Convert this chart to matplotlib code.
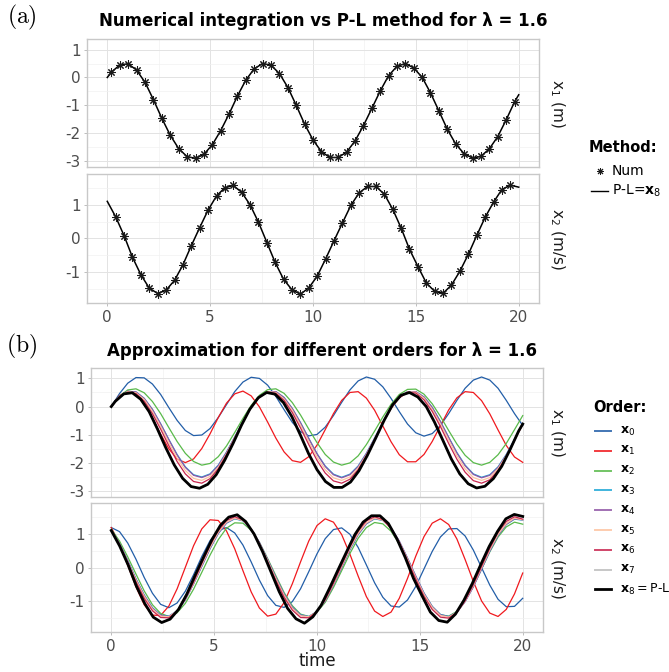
import matplotlib
matplotlib.use('Agg')
import matplotlib.pyplot as plt
from matplotlib.lines import Line2D

plt.rcParams['font.family'] = ['DejaVu Sans']
plt.rcParams['mathtext.fontset'] = 'dejavusans'

W, H = 669, 672

# time grid used for the approximation curves
t_grid = [0.0, 0.4, 0.8, 1.2, 1.6, 2.0, 2.4, 2.8, 3.2, 3.6, 4.0, 4.4, 4.8, 5.2, 5.6, 6.0,
          6.4, 6.8, 7.2, 7.6, 8.0, 8.4, 8.8, 9.2, 9.6, 10.0, 10.4, 10.8, 11.2, 11.6, 12.0,
          12.4, 12.8, 13.2, 13.6, 14.0, 14.4, 14.8, 15.2, 15.6, 16.0, 16.4, 16.8, 17.2,
          17.6, 18.0, 18.4, 18.8, 19.2, 19.6, 20.0]

# numerical integration samples (Num)
num_t1 = [0.20, 0.61, 1.02, 1.43, 1.84, 2.24, 2.65, 3.06, 3.47, 3.88, 4.29, 4.69, 5.10,
          5.51, 5.92, 6.33, 6.73, 7.14, 7.55, 7.96, 8.37, 8.78, 9.18, 9.59, 10.00, 10.41,
          10.82, 11.22, 11.63, 12.04, 12.45, 12.86, 13.27, 13.67, 14.08, 14.49, 14.90,
          15.31, 15.71, 16.12, 16.53, 16.94, 17.35, 17.76, 18.16, 18.57, 18.98, 19.39, 19.80]
num_x1 = [0.19, 0.45, 0.49, 0.26, -0.18, -0.79, -1.46, -2.07, -2.55, -2.84, -2.90, -2.76,
          -2.42, -1.91, -1.31, -0.66, -0.10, 0.31, 0.50, 0.44, 0.14, -0.36, -0.99, -1.67,
          -2.24, -2.66, -2.87, -2.87, -2.68, -2.28, -1.73, -1.11, -0.48, 0.06, 0.40, 0.50,
          0.34, 0.00, -0.55, -1.20, -1.86, -2.39, -2.74, -2.89, -2.83, -2.56, -2.12, -1.52, -0.87]
num_t2 = [0.41, 0.82, 1.22, 1.63, 2.04, 2.45, 2.86, 3.27, 3.67, 4.08, 4.49, 4.90, 5.31,
          5.71, 6.12, 6.53, 6.94, 7.35, 7.76, 8.16, 8.57, 8.98, 9.39, 9.80, 10.20, 10.61,
          11.02, 11.43, 11.84, 12.24, 12.65, 13.06, 13.47, 13.88, 14.29, 14.69, 15.10,
          15.51, 15.92, 16.33, 16.73, 17.14, 17.55, 17.96, 18.37, 18.78, 19.18, 19.59]
num_x2 = [0.64, 0.08, -0.55, -1.07, -1.47, -1.63, -1.53, -1.24, -0.79, -0.22, 0.32, 0.84,
          1.26, 1.50, 1.57, 1.37, 1.00, 0.48, -0.12, -0.71, -1.21, -1.52, -1.65, -1.46,
          -1.12, -0.61, -0.07, 0.46, 0.98, 1.35, 1.54, 1.54, 1.31, 0.86, 0.30, -0.32, -0.83,
          -1.32, -1.57, -1.62, -1.38, -0.97, -0.47, 0.09, 0.63, 1.08, 1.45, 1.58]

# P-L solution x8: end points of the curve besides the sampled ones
pl_start = [0.0, 1.10]
pl_end = [-0.62, 1.52]

# approximations of order 0..6, position (x1) and velocity (x2)
pos_o0 = [0.00, 0.46, 0.83, 1.03, 1.02, 0.80, 0.43, -0.04, -0.49, -0.85, -1.03, -1.01, -0.78,
          -0.39, 0.07, 0.53, 0.87, 1.04, 1.00, 0.76, 0.36, -0.11, -0.56, -0.89, -1.04, -0.99,
          -0.73, -0.32, 0.15, 0.59, 0.91, 1.05, 0.97, 0.70, 0.29, -0.18, -0.62, -0.93, -1.05,
          -0.96, -0.67, -0.25, 0.22, 0.65, 0.94, 1.05, 0.94, 0.65, 0.22, -0.25, -0.67]
vel_o0 = [1.19, 1.07, 0.73, 0.25, -0.29, -0.76, -1.09, -1.19, -1.05, -0.70, -0.21, 0.33, 0.80,
          1.10, 1.19, 1.03, 0.67, 0.17, -0.37, -0.83, -1.12, -1.18, -1.01, -0.63, -0.12, 0.41,
          0.86, 1.13, 1.18, 0.99, 0.60, 0.08, -0.45, -0.88, -1.14, -1.17, -0.96, -0.56, -0.04,
          0.48, 0.91, 1.15, 1.16, 0.94, 0.52, 0.00, -0.52, -0.94, -1.16, -1.15, -0.91]
pos_o1 = [0.00, 0.39, 0.55, 0.45, 0.11, -0.40, -0.98, -1.50, -1.86, -1.99, -1.86, -1.49, -0.97,
          -0.39, 0.12, 0.45, 0.55, 0.38, -0.01, -0.55, -1.12, -1.61, -1.92, -1.98, -1.78, -1.37,
          -0.82, -0.25, 0.22, 0.50, 0.53, 0.30, -0.13, -0.69, -1.25, -1.71, -1.96, -1.96, -1.70,
          -1.24, -0.68, -0.12, 0.31, 0.53, 0.50, 0.21, -0.26, -0.83, -1.38, -1.79, -1.98]
vel_o1 = [1.19, 0.71, 0.07, -0.57, -1.10, -1.41, -1.42, -1.14, -0.63, 0.01, 0.65, 1.15, 1.42,
          1.40, 1.09, 0.56, -0.09, -0.72, -1.20, -1.44, -1.38, -1.04, -0.48, 0.17, 0.79, 1.25,
          1.45, 1.35, 0.98, 0.40, -0.25, -0.86, -1.29, -1.45, -1.32, -0.91, -0.32, 0.34, 0.92,
          1.32, 1.45, 1.28, 0.85, 0.24, -0.41, -0.99, -1.35, -1.45, -1.24, -0.78, -0.16]
pos_o2 = [0.00, 0.37, 0.59, 0.63, 0.49, 0.18, -0.25, -0.75, -1.24, -1.66, -1.95, -2.08, -2.02,
          -1.78, -1.40, -0.92, -0.42, 0.04, 0.40, 0.60, 0.63, 0.47, 0.14, -0.30, -0.80, -1.28,
          -1.70, -1.97, -2.08, -2.00, -1.75, -1.35, -0.87, -0.37, 0.08, 0.43, 0.61, 0.62, 0.44,
          0.10, -0.35, -0.85, -1.33, -1.73, -1.99, -2.08, -1.98, -1.71, -1.31, -0.82, -0.32]
vel_o2 = [1.14, 0.79, 0.32, -0.19, -0.69, -1.10, -1.36, -1.45, -1.34, -1.06, -0.64, -0.14, 0.37,
          0.83, 1.17, 1.33, 1.32, 1.11, 0.75, 0.27, -0.24, -0.74, -1.13, -1.38, -1.45, -1.32,
          -1.03, -0.59, -0.09, 0.42, 0.87, 1.19, 1.34, 1.30, 1.08, 0.70, 0.22, -0.30, -0.78,
          -1.16, -1.40, -1.44, -1.30, -0.99, -0.55, -0.04, 0.47, 0.91, 1.21, 1.35, 1.29]
pos_o3 = [0.00, 0.36, 0.54, 0.52, 0.29, -0.10, -0.61, -1.17, -1.70, -2.14, -2.42, -2.50, -2.39,
          -2.08, -1.62, -1.08, -0.53, -0.03, 0.34, 0.53, 0.53, 0.32, -0.07, -0.57, -1.13, -1.67,
          -2.11, -2.40, -2.51, -2.40, -2.11, -1.66, -1.12, -0.57, -0.06, 0.32, 0.53, 0.53, 0.34,
          -0.03, -0.53, -1.09, -1.63, -2.08, -2.39, -2.51, -2.42, -2.14, -1.70, -1.16, -0.61]
vel_o3 = [1.12, 0.71, 0.21, -0.33, -0.81, -1.19, -1.41, -1.44, -1.28, -0.95, -0.48, 0.04, 0.56,
          1.01, 1.32, 1.45, 1.39, 1.14, 0.74, 0.24, -0.29, -0.78, -1.17, -1.40, -1.45, -1.30,
          -0.98, -0.52, 0.00, 0.53, 0.98, 1.30, 1.45, 1.40, 1.17, 0.78, 0.28, -0.25, -0.75,
          -1.15, -1.39, -1.45, -1.32, -1.00, -0.56, -0.04, 0.49, 0.95, 1.28, 1.44, 1.41]
pos_o4 = [0.00, 0.36, 0.54, 0.52, 0.29, -0.10, -0.62, -1.18, -1.72, -2.16, -2.44, -2.52, -2.41,
          -2.10, -1.63, -1.09, -0.54, -0.03, 0.34, 0.53, 0.53, 0.32, -0.07, -0.58, -1.14, -1.68,
          -2.13, -2.42, -2.53, -2.42, -2.13, -1.67, -1.13, -0.57, -0.06, 0.32, 0.53, 0.53, 0.34,
          -0.03, -0.54, -1.10, -1.65, -2.10, -2.41, -2.53, -2.44, -2.16, -1.72, -1.17, -0.61]
vel_o4 = [1.12, 0.72, 0.21, -0.34, -0.82, -1.20, -1.42, -1.45, -1.29, -0.96, -0.48, 0.04, 0.57,
          1.02, 1.33, 1.46, 1.40, 1.15, 0.75, 0.24, -0.29, -0.79, -1.18, -1.41, -1.46, -1.31,
          -0.99, -0.52, 0.00, 0.54, 0.99, 1.31, 1.46, 1.41, 1.18, 0.79, 0.28, -0.25, -0.76,
          -1.16, -1.40, -1.46, -1.33, -1.01, -0.57, -0.04, 0.50, 0.96, 1.29, 1.45, 1.42]
pos_o5 = [0.00, 0.36, 0.53, 0.49, 0.25, -0.17, -0.70, -1.28, -1.83, -2.27, -2.55, -2.62, -2.48,
          -2.16, -1.68, -1.11, -0.54, -0.03, 0.34, 0.53, 0.50, 0.27, -0.13, -0.66, -1.24, -1.79,
          -2.24, -2.53, -2.62, -2.50, -2.18, -1.72, -1.16, -0.58, -0.07, 0.32, 0.52, 0.51, 0.30,
          -0.10, -0.62, -1.19, -1.75, -2.21, -2.52, -2.62, -2.52, -2.21, -1.75, -1.20, -0.62]
vel_o5 = [1.11, 0.69, 0.17, -0.37, -0.85, -1.23, -1.44, -1.46, -1.28, -0.93, -0.46, 0.08, 0.60,
          1.05, 1.35, 1.47, 1.40, 1.14, 0.72, 0.21, -0.33, -0.82, -1.21, -1.43, -1.46, -1.30,
          -0.96, -0.49, 0.04, 0.57, 1.02, 1.33, 1.47, 1.41, 1.16, 0.76, 0.25, -0.29, -0.79,
          -1.18, -1.42, -1.47, -1.32, -0.99, -0.53, 0.00, 0.53, 0.99, 1.31, 1.47, 1.42]
pos_o6 = [0.00, 0.36, 0.51, 0.46, 0.19, -0.25, -0.80, -1.39, -1.95, -2.39, -2.66, -2.72, -2.56,
          -2.21, -1.71, -1.13, -0.54, -0.03, 0.34, 0.51, 0.47, 0.22, -0.21, -0.76, -1.35, -1.91,
          -2.36, -2.64, -2.72, -2.58, -2.24, -1.75, -1.17, -0.58, -0.06, 0.31, 0.50, 0.48, 0.24,
          -0.17, -0.71, -1.31, -1.87, -2.33, -2.63, -2.72, -2.60, -2.27, -1.79, -1.21, -0.62]
vel_o6 = [1.11, 0.66, 0.13, -0.42, -0.91, -1.28, -1.48, -1.49, -1.29, -0.92, -0.43, 0.13, 0.66,
          1.10, 1.40, 1.51, 1.42, 1.14, 0.70, 0.17, -0.38, -0.88, -1.26, -1.48, -1.49, -1.31,
          -0.95, -0.46, 0.08, 0.62, 1.08, 1.39, 1.51, 1.43, 1.16, 0.74, 0.21, -0.34, -0.85,
          -1.24, -1.47, -1.50, -1.33, -0.98, -0.50, 0.04, 0.58, 1.05, 1.37, 1.51, 1.44]

orders = ['$\\mathbf{x}_0$', '$\\mathbf{x}_1$', '$\\mathbf{x}_2$', '$\\mathbf{x}_3$',
          '$\\mathbf{x}_4$', '$\\mathbf{x}_5$', '$\\mathbf{x}_6$', '$\\mathbf{x}_7$',
          '$\\mathbf{x}_8$\u2009=\u2009P-L']
order_colors = ['#225EA8', '#F0191E', '#59BA4A', '#1FA7D6', '#9157A6', '#FDC3A0',
                '#C8254F', '#BDBDBD', '#000000']

pl_t1 = [0.0] + num_t1 + [20.0]
pl_x1 = [pl_start[0]] + num_x1 + [pl_end[0]]
pl_t2 = [0.0] + num_t2 + [20.0]
pl_x2 = [pl_start[1]] + num_x2 + [pl_end[1]]

pos_list = [pos_o0, pos_o1, pos_o2, pos_o3, pos_o4, pos_o5, pos_o6]
vel_list = [vel_o0, vel_o1, vel_o2, vel_o3, vel_o4, vel_o5, vel_o6]

fig = plt.figure(figsize=(W / 100, H / 100), dpi=100)


def px_box(l, t, r, b):
    return [l / W, 1 - b / H, (r - l) / W, (b - t) / H]


def fx(x):
    return x / W


def fy(y):
    return 1 - y / H


def style(ax, ylim, yticks, yminor, xlabels):
    ax.set_xlim(-1, 21)
    ax.set_ylim(*ylim)
    ax.set_xticks([0, 5, 10, 15, 20])
    ax.set_xticks([2.5, 7.5, 12.5, 17.5], minor=True)
    ax.set_yticks(yticks)
    ax.set_yticks(yminor, minor=True)
    ax.grid(True, which='major', color='#E3E3E3', lw=0.7)
    ax.grid(True, which='minor', color='#F1F1F1', lw=0.5)
    ax.set_axisbelow(True)
    for s in ax.spines.values():
        s.set_color('#C8C8C8')
        s.set_linewidth(1.0)
    ax.tick_params(which='major', length=2.5, width=0.6, color='#B3B3B3',
                   labelsize=11, labelcolor='#4D4D4D', pad=2)
    ax.tick_params(which='minor', length=0)
    ax.set_yticklabels([str(v) for v in yticks])
    if not xlabels:
        ax.tick_params(axis='x', labelbottom=False, length=0)


x1_ticks = [-3, -2, -1, 0, 1]
x1_minor = [-2.5, -1.5, -0.5, 0.5]
x2_ticks = [-1, 0, 1]
x2_minor = [-1.5, -0.5, 0.5, 1.5]

# ---- panel (a)
axa1 = fig.add_axes(px_box(86.7, 39, 539.3, 166.7))
axa2 = fig.add_axes(px_box(86.7, 174, 539.3, 303.3))
style(axa1, (-3.2, 1.38), x1_ticks, x1_minor, False)
style(axa2, (-1.92, 1.91), x2_ticks, x2_minor, True)

axa1.plot(pl_t1, pl_x1, color='black', lw=1.1)
axa1.plot(num_t1, num_x1, ls='none', marker=(8, 2, 0), ms=6, mew=0.75, color='#1A1A1A')
axa2.plot(pl_t2, pl_x2, color='black', lw=1.1)
axa2.plot(num_t2, num_x2, ls='none', marker=(8, 2, 0), ms=6, mew=0.75, color='#1A1A1A')

# ---- panel (b)
axb1 = fig.add_axes(px_box(90.7, 367.7, 543.3, 496.7))
axb2 = fig.add_axes(px_box(90.7, 503.3, 543.3, 632.3))
style(axb1, (-3.2, 1.38), x1_ticks, x1_minor, False)
style(axb2, (-1.92, 1.91), x2_ticks, x2_minor, True)

for i in range(7):
    axb1.plot(t_grid, pos_list[i], color=order_colors[i], lw=0.9)
    axb2.plot(t_grid, vel_list[i], color=order_colors[i], lw=0.9)
# x7 sits on top of x8
axb1.plot(pl_t1, pl_x1, color=order_colors[7], lw=0.9)
axb2.plot(pl_t2, pl_x2, color=order_colors[7], lw=0.9)
axb1.plot(pl_t1, pl_x1, color='black', lw=2.0)
axb2.plot(pl_t2, pl_x2, color='black', lw=2.0)

# strip labels
for yc in [(39 + 166.7) / 2, (367.7 + 496.7) / 2]:
    fig.text(fx(557), fy(yc), 'x$_1$ (m)', rotation=270, ha='center', va='center',
             fontsize=11, color='#1A1A1A')
for yc in [(174 + 303.3) / 2, (503.3 + 632.3) / 2]:
    fig.text(fx(557), fy(yc), 'x$_2$ (m/s)', rotation=270, ha='center', va='center',
             fontsize=11, color='#1A1A1A')

# titles
fig.text(fx(323), fy(21), 'Numerical integration vs P-L method for λ = 1.6',
         ha='center', va='center', fontsize=12, fontweight='bold')
fig.text(fx(322), fy(351), 'Approximation for different orders for λ = 1.6',
         ha='center', va='center', fontsize=12, fontweight='bold')
fig.text(fx(22), fy(17), r'$\mathrm{(a)}$', math_fontfamily='cm', ha='center',
         va='center', fontsize=17)
fig.text(fx(22), fy(346), r'$\mathrm{(b)}$', math_fontfamily='cm', ha='center',
         va='center', fontsize=17)
fig.text(fx(317), fy(661), 'time', ha='center', va='center', fontsize=12, color='#1A1A1A')

# legend: Method
fig.text(fx(589), fy(148), 'Method:', ha='left', va='center', fontsize=10.5,
         fontweight='bold')
fig.add_artist(Line2D([fx(600)], [fy(171)], ls='none', marker=(8, 2, 0), ms=5,
                      mew=0.7, color='#1A1A1A', transform=fig.transFigure))
fig.text(fx(612), fy(171), 'Num', ha='left', va='center', fontsize=10)
fig.add_artist(Line2D([fx(591), fx(608)], [fy(191), fy(191)], color='black', lw=1.0,
                      transform=fig.transFigure))
fig.text(fx(612), fy(191), 'P-L=$\\mathbf{x}_8$', ha='left', va='center', fontsize=10)

# legend: Order
fig.text(fx(593), fy(407), 'Order:', ha='left', va='center', fontsize=10.5,
         fontweight='bold')
for i, (lab, col) in enumerate(zip(orders, order_colors)):
    yy = 431 + 19.8 * i
    fig.add_artist(Line2D([fx(595), fx(611)], [fy(yy), fy(yy)], color=col,
                          lw=2.0 if i == 8 else 1.4, alpha=1.0 if i == 8 else 0.85,
                          transform=fig.transFigure))
    fig.text(fx(620), fy(yy), lab, ha='left', va='center', fontsize=9)

fig.savefig('out.png', dpi=100)
